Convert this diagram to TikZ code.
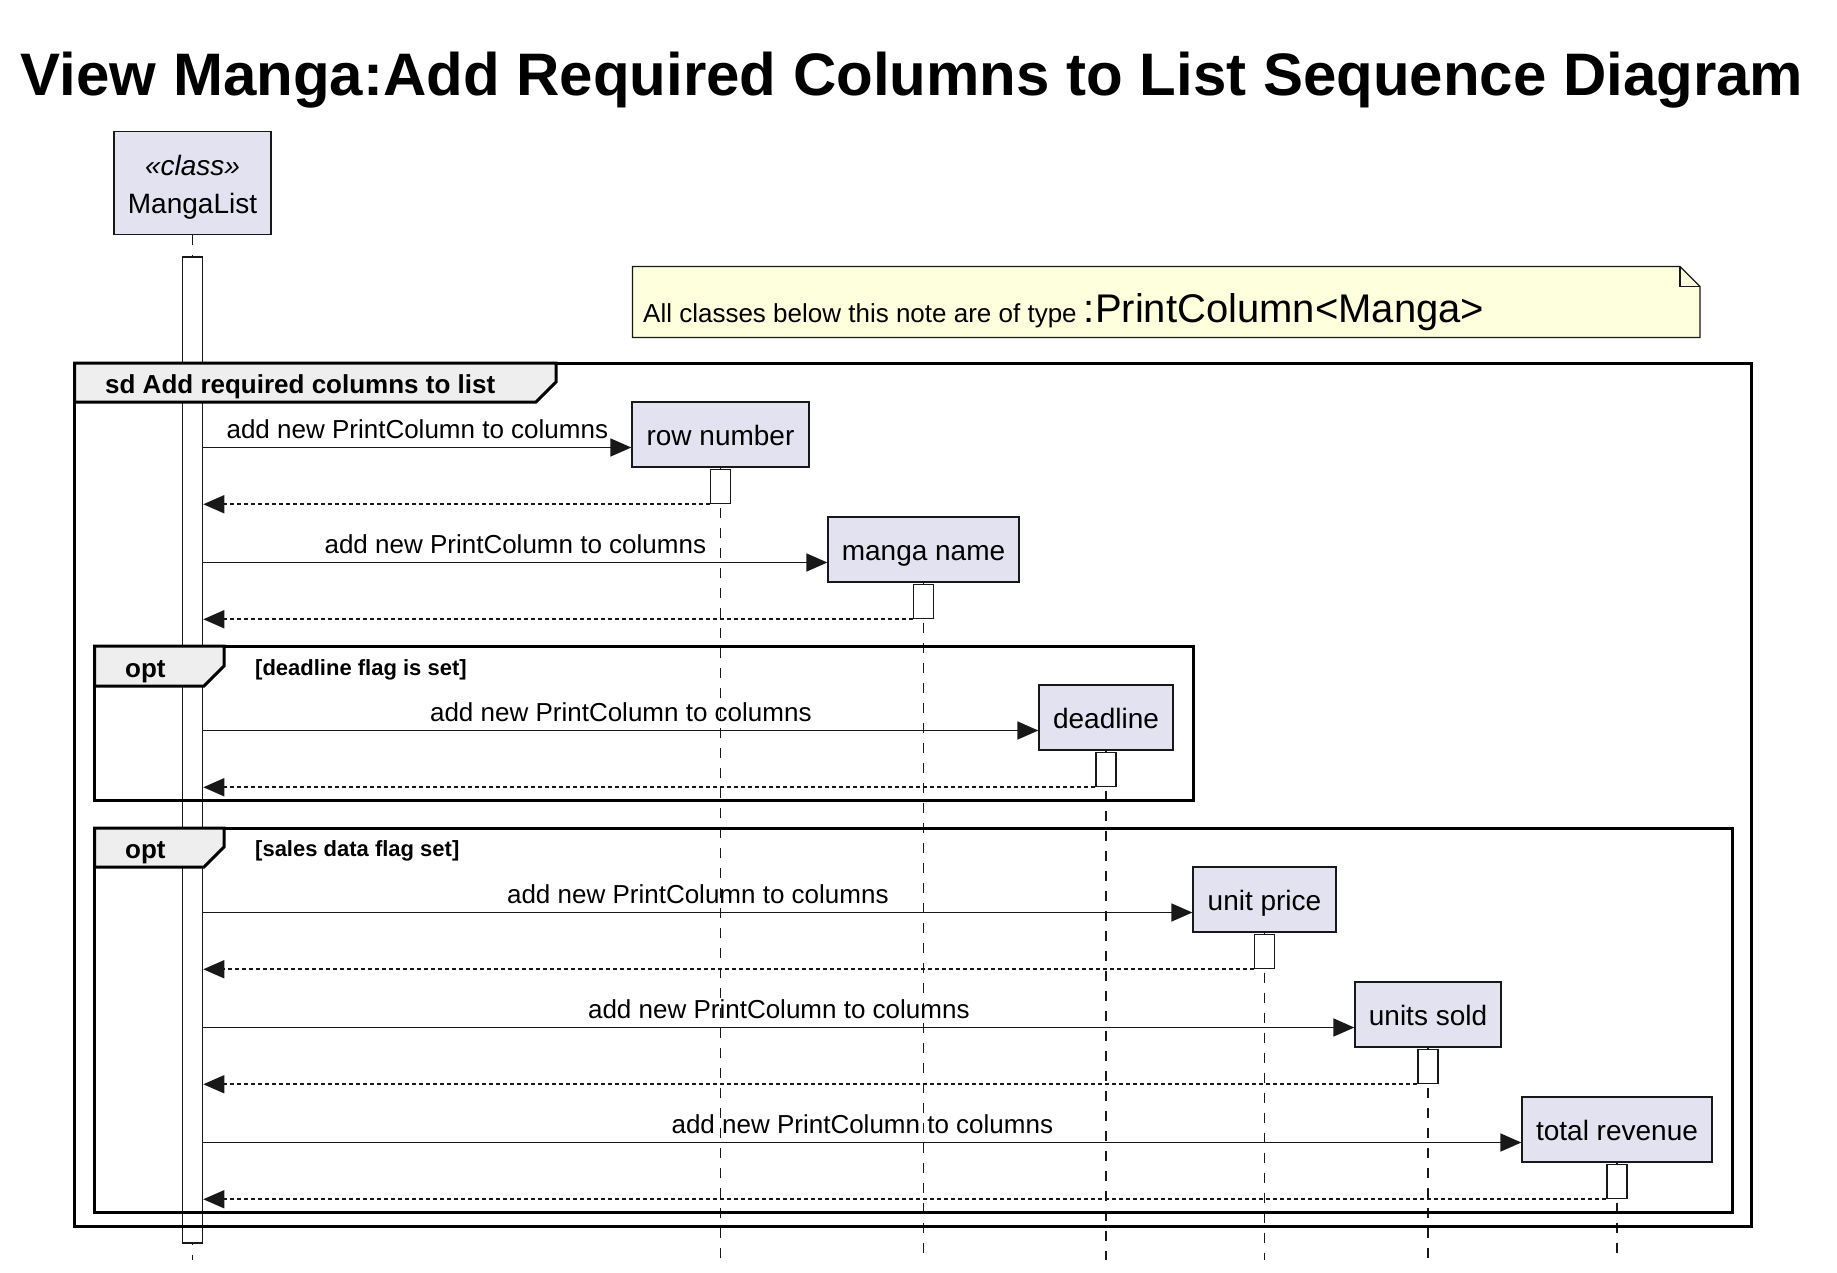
\documentclass[tikz,border=0pt]{standalone}
\usepackage{fontspec}
\setmainfont{Liberation Sans}
\usetikzlibrary{arrows.meta}

\definecolor{umlline}{HTML}{181818}
\definecolor{umlfill}{HTML}{E2E2F0}
\definecolor{notefill}{HTML}{FEFFDD}
\definecolor{tabfill}{HTML}{EEEEEE}

\tikzstyle{participant} = [rectangle, draw=umlline, fill=umlfill, line width=1.3pt,
    inner sep=0pt, minimum height=65pt, text height=21pt, text depth=0pt,
    font=\fontsize{28}{34}\selectfont]
\tikzstyle{activation} = [rectangle, draw=umlline, fill=white, line width=1.6pt,
    inner sep=0pt, minimum width=20pt]
\tikzstyle{lifeline} = [draw=umlline, line width=1.2pt, dash pattern=on 10pt off 10pt]
\tikzstyle{call} = [draw=umlline, line width=1.7pt, -{Triangle[length=21pt, width=18pt]}]
\tikzstyle{reply} = [draw=umlline, line width=1.7pt, dash pattern=on 4pt off 3pt,
    -{Triangle[length=21pt, width=18pt]}]
\tikzstyle{msg} = [inner sep=0pt, anchor=base, font=\fontsize{26}{30}\selectfont]
\tikzstyle{frame} = [draw=black, line width=3pt]
\tikzstyle{tab} = [draw=black, fill=tabfill, line width=3pt, line join=miter]
\tikzstyle{framelabel} = [inner sep=0pt, anchor=base west, font=\bfseries\fontsize{26}{30}\selectfont]
\tikzstyle{guard} = [inner sep=0pt, anchor=base west, font=\bfseries\fontsize{22}{26}\selectfont]
\tikzstyle{note} = [draw=umlline, fill=notefill, line width=1.3pt]

\begin{document}
\begin{tikzpicture}[x=1pt, y=-1pt]

    \fill [white] (0,0) rectangle (1837,1272);

    \node [inner sep=0pt, anchor=base, font=\bfseries\fontsize{60}{72}\selectfont] (title) at (912,95)
        {View Manga:Add Required Columns to List Sequence Diagram};

    \path [note] (632.5,266.5) -- (1680,266.5) -- (1700,286.5) -- (1700,337.5) -- (632.5,337.5) -- cycle;
    \path [note, fill=none] (1680,266.5) -- (1680,286.5) -- (1700,286.5);
    \node [inner sep=0pt, anchor=base west] (notetext) at (643,322.5)
        {\fontsize{26}{30}\selectfont All classes below this note are of type
         \fontsize{40}{48}\selectfont :PrintColumn<Manga>};

    \node [participant, minimum width=157pt, minimum height=103pt] (mangalist) at (192.5,183) {};
    \node [msg, font=\itshape\fontsize{28}{34}\selectfont] (stereo) at (192.5,175) {«class»};
    \node [msg, font=\fontsize{28}{34}\selectfont] (mlname) at (192.5,213) {MangaList};
    \coordinate (lifeend) at (192.5,1260);
    \path [lifeline] (mangalist.south) -- (lifeend);
    \node [activation, minimum height=986pt, anchor=north] (barml) at (192.5,256) {};

    \node [participant, minimum width=177pt] (rownum) at (720.5,434.5) {row number};
    \node [participant, minimum width=191pt] (manganame) at (923.5,549.5) {manga name};
    \node [participant, minimum width=134pt] (deadline) at (1106,717.5) {deadline};
    \node [participant, minimum width=143pt] (unitprice) at (1264.5,899.5) {unit price};
    \node [participant, minimum width=146pt] (unitssold) at (1428,1014.5) {units sold};
    \node [participant, minimum width=190pt] (totalrev) at (1617,1129.5) {total revenue};

    \foreach \p in {rownum, manganame, deadline, unitprice, unitssold, totalrev} {
        \path [lifeline] (\p.south) -- (\p.south |- lifeend);
        \node [activation, minimum height=34pt, anchor=north] (bar\p) at ([yshift=-1pt]\p.south) {};
        \coordinate (in\p) at ([yshift=-13pt]\p.west);
        \path [call] (barml.east |- in\p) -- (in\p)
            node [msg, midway, yshift=9.5pt] (lbl\p) {add new PrintColumn to columns};
        \path [reply] (bar\p.south west) -- (bar\p.south west -| barml.east);
    }

    \path [frame] (74.5,363) rectangle (1751,1226);
    \path [tab] (74.5,363) -- (556,363) -- (556,382) -- (536,402) -- (74.5,402) -- cycle;
    \node [framelabel] (sdlabel) at (105,393) {sd Add required columns to list};

    \path [frame] (94.5,646) rectangle (1193,800);
    \path [tab] (94.5,646) -- (224,646) -- (224,666) -- (204,686) -- (94.5,686) -- cycle;
    \node [framelabel] (optdeadline) at (125,677) {opt};
    \node [guard] (guarddeadline) at (255,675) {[deadline flag is set]};

    \path [frame] (94.5,828) rectangle (1732,1212);
    \path [tab] (94.5,828) -- (224,828) -- (224,847) -- (204,867) -- (94.5,867) -- cycle;
    \node [framelabel] (optsales) at (125,858) {opt};
    \node [guard] (guardsales) at (255,856) {[sales data flag set]};

\end{tikzpicture}
\end{document}
